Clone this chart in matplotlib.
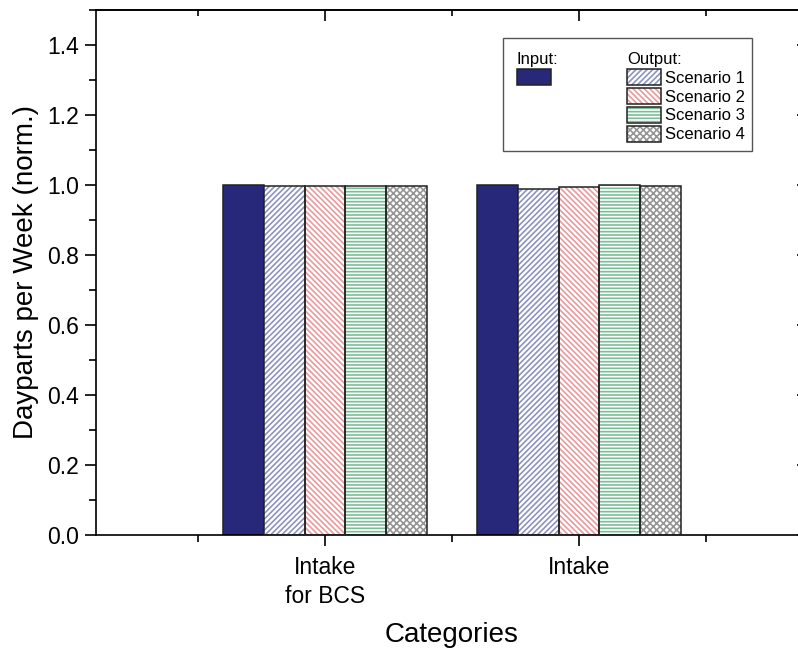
import numpy as np
import matplotlib.pyplot as plt
from matplotlib.patches import Patch, Rectangle
from matplotlib.ticker import MultipleLocator, FixedLocator

plt.rcParams['font.family'] = ['Liberation Sans', 'DejaVu Sans']
plt.rcParams['hatch.linewidth'] = 1.2

categories = ["Intake\nfor BCS", "Intake"]
input_vals = [1.0, 1.0]
scenario1 = [0.997, 0.989]
scenario2 = [0.997, 0.994]
scenario3 = [0.997, 0.999]
scenario4 = [0.998, 0.997]
scenario_names = ["Scenario 1", "Scenario 2", "Scenario 3", "Scenario 4"]

navy = '#28287a'
hatch_colors = ['#8d93c0', '#eb9a9c', '#7cbd98', '#959595']
hatches = ['//////', '\\\\\\\\\\\\', '-----', 'xxxxx']
edge = '#222222'

fig = plt.figure(figsize=(7.98, 6.49), dpi=100)
ax = fig.add_axes([0.1203, 0.1757, 0.8922, 0.8089])

pos = np.arange(1, len(categories) + 1)
w = 0.16

ax.bar(pos - 2 * w, input_vals, w, color=navy, edgecolor=edge, linewidth=1.1, zorder=2)
input_handle = Patch(facecolor=navy, edgecolor=edge, linewidth=1.1)

out_handles = []
for i, vals in enumerate([scenario1, scenario2, scenario3, scenario4]):
    x = pos + (i - 1) * w
    # hatch takes the edge colour, so draw the hatch and the outline separately
    ax.bar(x, vals, w, color='white', edgecolor=hatch_colors[i], hatch=hatches[i],
           linewidth=0, zorder=2)
    ax.bar(x, vals, w, fill=False, edgecolor=edge, linewidth=1.1, zorder=3)
    out_handles.append((Patch(facecolor='white', edgecolor=hatch_colors[i],
                              hatch=hatches[i], linewidth=0),
                        Patch(fill=False, edgecolor=edge, linewidth=1.1)))

ax.set_xlim(0.1, 2.9)
ax.set_ylim(0, 1.5)
ax.set_xticks(pos)
ax.set_xticklabels(categories, linespacing=1.35)
ax.xaxis.set_minor_locator(FixedLocator([0.5, 1.5, 2.5]))
ax.yaxis.set_major_locator(MultipleLocator(0.2))
ax.yaxis.set_minor_locator(MultipleLocator(0.1))
ax.tick_params(which='major', direction='out', length=8, width=1.2, labelsize=16.5, pad=4)
ax.tick_params(axis='x', which='major', pad=7)
ax.tick_params(which='minor', direction='out', length=5, width=1.2)
for s in ax.spines.values():
    s.set_linewidth(1.2)

# inward ticks on the top and right sides
top = ax.secondary_xaxis('top')
top.set_xticks(pos)
top.xaxis.set_minor_locator(FixedLocator([0.5, 1.5, 2.5]))
top.tick_params(which='major', direction='in', length=8, width=1.2, labeltop=False)
top.tick_params(which='minor', direction='in', length=4, width=1.2)
top.spines['top'].set_linewidth(1.2)
right = ax.secondary_yaxis('right')
right.yaxis.set_major_locator(MultipleLocator(0.2))
right.tick_params(which='major', direction='in', length=8, width=1.2, labelright=False)
right.spines['right'].set_linewidth(1.2)

ax.set_ylabel("Dayparts per Week (norm.)", fontsize=20, labelpad=6)
ax.set_xlabel("Categories", fontsize=20, labelpad=10)

leg_kw = dict(loc='upper left', frameon=False, fontsize=12, title_fontsize=12,
              alignment='left', handlelength=2.05, handleheight=1.1,
              handletextpad=0.25, labelspacing=0.13, borderpad=0, borderaxespad=0)
leg_in = ax.legend([input_handle], [""], title="Input:",
                   bbox_to_anchor=(0.591, 0.92), **leg_kw)
ax.add_artist(leg_in)
ax.legend(out_handles, scenario_names, title="Output:",
          bbox_to_anchor=(0.746, 0.92), **leg_kw)
ax.add_patch(Rectangle((0.5716, 0.7314), 0.3497, 0.2152, transform=ax.transAxes,
                       fill=False, edgecolor='#555555', linewidth=1.0, zorder=5))

fig.savefig("out.png", dpi=100)
